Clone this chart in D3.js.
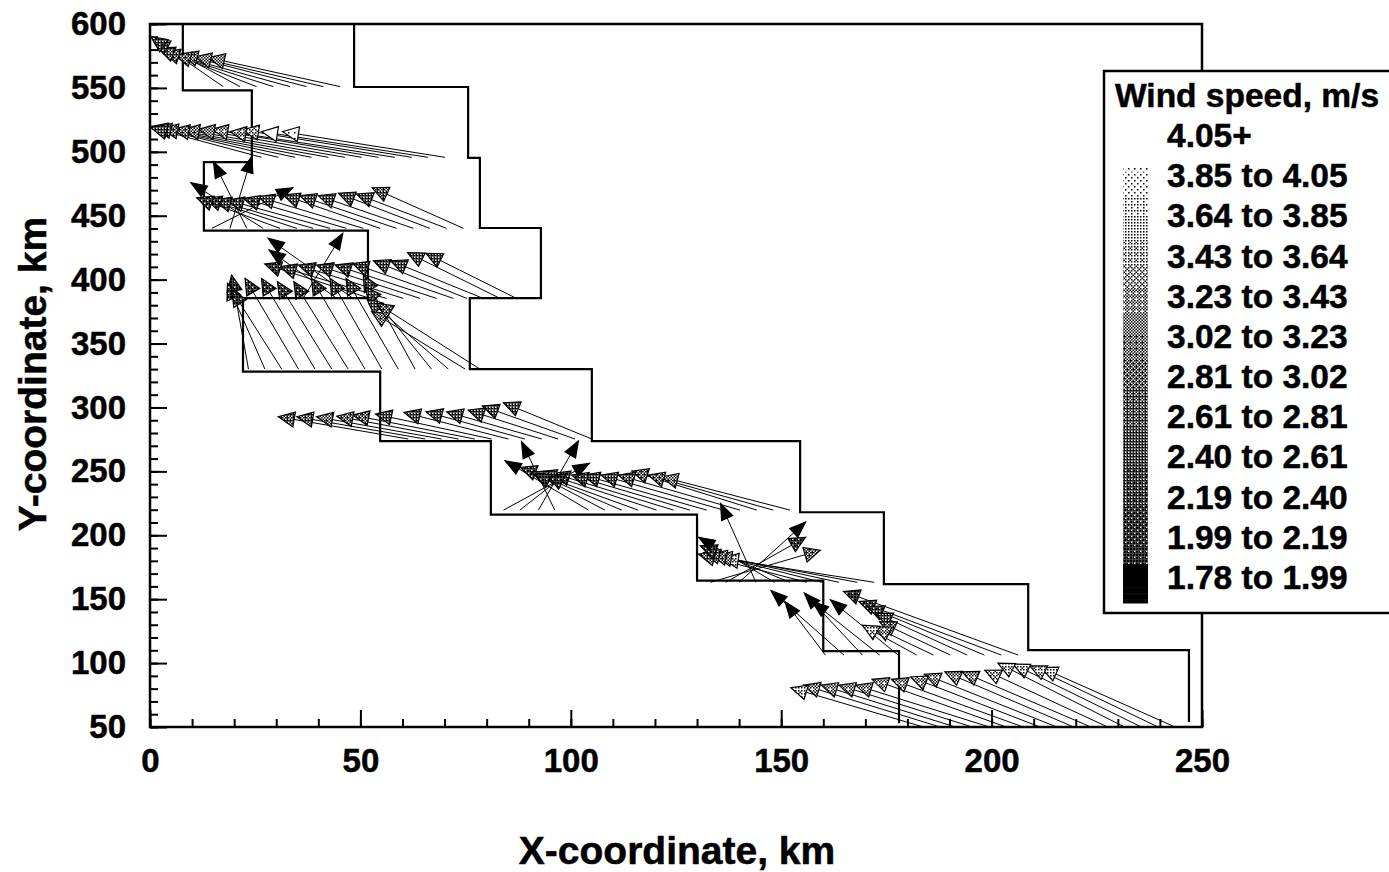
<!DOCTYPE html>
<html>
<head>
<meta charset="utf-8">
<script src="https://cdn.jsdelivr.net/npm/d3@7"></script>
<style>
  html, body { margin: 0; background: #fff; overflow: hidden; }
  text { font-family: "Liberation Sans", Arial, sans-serif; font-weight: bold; fill: #000; stroke: #000; stroke-width: 0.5px; }
</style>
</head>
<body>
<div id="chart"></div>
<script>
// Domain boundary, km
const rightEdgeX = [48.5, 48.5, 75.6, 75.6, 78.4, 78.4, 92.9, 92.9, 76, 76, 105, 105, 154.5, 154.5, 174.4, 174.4, 208.7, 208.7, 246.9, 246.9];
const rightEdgeY = [600, 550.7, 550.7, 495.2, 495.2, 440.4, 440.4, 385.6, 385.6, 330, 330, 273.7, 273.7, 218, 218, 161.8, 161.8, 110.2, 110.2, 53.9];
const leftEdgeX = [7.8, 7.8, 24.2, 24.2, 12.8, 12.8, 51.8, 51.8, 22.1, 22.1, 54.7, 54.7, 81, 81, 130, 130, 160, 160, 178, 178];
const leftEdgeY = [600, 548, 548, 492, 492, 438.4, 438.4, 385.6, 385.6, 328, 328, 273.7, 273.7, 216.2, 216.2, 164.5, 164.5, 109.4, 109.4, 53];

// Wind vectors, one set of arrays per transect: tail x, tip x, tip y, speed
const tailY = [551, 495.7, 440.1, 385.3, 330, 275.3, 219.7, 163.2, 106.3, 50];

const tailX1 = [45.2, 41.2, 37.2, 33.3, 29.3, 25.3, 21.4, 17.4];
const tipX1 = [13.9, 10.7, 7.5, 5.9, 3.2, 2.0, 0.8, 0.2];
const tipY1 = [573.7, 574.4, 576.3, 575.7, 578.4, 581, 587.5, 590.1];
const speed1 = [3.2, 3.2, 3.1, 3.0, 2.9, 2.8, 2.5, 2.3];

const tailX2 = [70.1, 66.1, 62.2, 58.2, 54.3, 50.3, 46.3, 42.4, 38.4, 34.5, 30.5, 26.5];
const tipX2 = [31.5, 26.5, 22.0, 19.0, 14.7, 11.5, 7.9, 5.5, 2.8, 1.2, 0.3, 0.2];
const tipY2 = [515.8, 515.8, 517.1, 515.8, 517.6, 517.6, 517.6, 517.6, 518.4, 519.1, 519.7, 519];
const speed2 = [4.0, 4.2, 3.5, 3.4, 3.3, 3.2, 3.1, 3.0, 2.9, 2.8, 2.7, 2.6];

const tailX3 = [74.5, 70.5, 66.5, 62.6, 58.6, 54.7, 50.7, 46.7, 42.8, 38.8, 34.9, 30.9, 26.9, 23.0, 19.0, 14.7];
const tipX3 = [52.8, 49.1, 44.8, 40, 35.6, 31.7, 25.7, 22.2, 18.4, 15.4, 13.1, 11.1, 9.7, 15.1, 24.2, 33.9];
const tipY3 = [471.9, 467, 467.5, 465.7, 465.7, 466.2, 464.9, 463.6, 462.3, 462.3, 463.6, 464.1, 475.8, 492.3, 496.2, 471.9];
const speed3 = [2.7, 2.6, 2.6, 2.6, 2.6, 2.5, 2.5, 2.4, 2.4, 2.3, 2.2, 2.1, 1.85, 1.85, 1.85, 1.85];

const tailX4 = [87.1, 83.2, 79.2, 75.3, 72.1, 68.1, 64.2, 60.2, 56.2, 52.3, 48.3, 44.4, 36.4];
const tipX4 = [65.6, 61.2, 57.2, 53.1, 48.1, 44, 39.6, 35.3, 30.9, 27.3, 28.1, 28.3, 45.8];
const tipY4 = [420.6, 421.1, 414.8, 414.8, 412.7, 411.4, 411.4, 411.4, 410.1, 412.2, 432.3, 423.2, 436.2];
const speed4 = [2.55, 2.55, 2.5, 2.5, 2.4, 2.4, 2.45, 2.45, 2.3, 2.1, 1.85, 1.85, 1.85];

const tailX5 = [23.4, 27.3, 31.3, 35.3, 39.2, 43.2, 47.1, 51.1, 55.1, 59, 63, 66.9, 70.9, 74.9, 78.4];
const tipX5 = [19.4, 18.4, 19.4, 22.6, 26.5, 30.3, 34.2, 38.4, 42.8, 46.6, 50.7, 51.1, 51.5, 52.7, 53.9];
const tipY5 = [403.6, 397.1, 391.9, 401, 401, 398.4, 398.4, 401, 401, 401, 403.6, 394.5, 385.3, 374.9, 381.4];
const speed5 = [2.0, 2.0, 2.0, 2.1, 2.2, 2.2, 2.2, 2.2, 2.3, 2.3, 2.3, 2.3, 2.5, 3.1, 2.9];

const tailX6 = [105, 101, 97, 93.1, 89.1, 85.2, 81.2, 77.2, 73.3, 69.3, 65.4, 61.4];
const tipX6 = [84, 79, 75.6, 70.5, 65.6, 60.4, 53.6, 48.2, 44.4, 39.6, 34.9, 30.5];
const tipY6 = [303.7, 301.1, 297.9, 296.6, 296.6, 296.1, 294.8, 294, 293.2, 292.7, 292.7, 292.7];
const speed6 = [2.5, 2.5, 2.6, 2.6, 2.6, 2.5, 2.5, 2.9, 3.0, 3.1, 2.8, 2.8];

const tailX7 = [152.1, 148.1, 144.2, 140.2, 136.3, 132.3, 128.3, 124.4, 120.4, 116, 112.1, 108.1, 104.2, 96.2, 92.3, 87.9, 84];
const tipX7 = [121.6, 118.4, 114.5, 111.3, 107.2, 103, 100.2, 95.9, 92.7, 88, 90.7, 91.5, 84.4, 88.3, 101.8, 99, 104.4];
const tipY7 = [245.8, 247.1, 250.2, 247.1, 247.1, 247.1, 247.1, 248.4, 249.7, 253.1, 249.7, 248.4, 258.3, 273.2, 273.7, 248.4, 256.2];
const speed7 = [3.1, 3.0, 3.0, 2.7, 2.6, 2.5, 2.3, 2.2, 2.3, 2.1, 2.0, 2.0, 1.85, 1.85, 1.85, 2.0, 1.85];

const tailX8 = [172.1, 168.1, 163.7, 159.7, 156.1, 152.1, 148.4, 144, 140, 136.8, 133.2];
const tipX8 = [136, 134.4, 133.2, 131.6, 130.4, 130.8, 130.4, 135.6, 155.8, 155.8, 159.3];
const tipY8 = [182, 183.8, 185.2, 186.5, 185.2, 191.8, 198.4, 224.9, 210.3, 198.4, 188.3];
const speed8 = [3.6, 3.2, 3, 2.8, 2.8, 2.2, 1.85, 1.85, 1.85, 2.1, 2.9];

const tailX9 = [206.3, 202.3, 198.3, 194.2, 190.2, 186.2, 182.2, 177.8, 173.4, 169.3, 164.9, 160.5];
const tipX9 = [164.8, 168.5, 170.5, 172.5, 173.4, 172.1, 169.3, 161.7, 157.4, 155.5, 147.6, 150.9];
const tipY9 = [156.1, 148.1, 144.2, 138.9, 132.3, 128.3, 129.6, 149.5, 148.1, 154.8, 156.6, 148.1];
const speed9 = [2.0, 2.2, 2.3, 2.6, 3.0, 3.4, 3.6, 1.85, 1.85, 1.85, 1.85, 1.85];

const tailX10 = [243.6, 239.6, 235.6, 231.6, 227.6, 223.6, 219.5, 215.5, 211.5, 207.5, 203.5, 199.5, 195.4, 191.4, 187.8, 183.8];
const tipX10 = [211.8, 209.1, 205.1, 201.5, 198.4, 193, 188.9, 184, 180.8, 176.2, 171.6, 167.7, 163.7, 159.5, 155.3, 152.3];
const tipY10 = [96.5, 97.9, 99.2, 100, 94.4, 93.1, 93.1, 91.3, 89.1, 87.3, 87.3, 82.8, 82.8, 82.8, 82.8, 80.7];
const speed10 = [3.7, 3.6, 3.6, 3.6, 3.5, 3.4, 3.4, 3.4, 3.3, 3.4, 3.3, 3.3, 3.3, 3.3, 3.4, 3.6];

const legendLabels = ["4.05+", "3.85 to 4.05", "3.64 to 3.85", "3.43 to 3.64", "3.23 to 3.43", "3.02 to 3.23",
  "2.81 to 3.02", "2.61 to 2.81", "2.40 to 2.61", "2.19 to 2.40", "1.99 to 2.19", "1.78 to 1.99"];
const xMajorTicks = [0, 50, 100, 150, 200, 250];
const yMajorTicks = [50, 100, 150, 200, 250, 300, 350, 400, 450, 500, 550, 600];

const width = 1389;
const height = 872;
const plot = {left: 150, right: 1202, top: 24, bottom: 727};

const svg = d3.select("#chart").append("svg")
    .attr("width", width)
    .attr("height", height)
    .style("display", "block");

const x = d3.scaleLinear().domain([0, 250]).range([plot.left, plot.right]);
const y = d3.scaleLinear().domain([50, 600]).range([plot.bottom, plot.top]);

// Halftone fills, the scan of the original is a dithered print
const bayer = [[0, 8, 2, 10], [12, 4, 14, 6], [3, 11, 1, 9], [15, 7, 13, 5]];
const cell = 1.5;
const defs = svg.append("defs");
d3.range(16).forEach(level => {
    const p = defs.append("pattern")
        .attr("id", `tone${level}`)
        .attr("patternUnits", "userSpaceOnUse")
        .attr("width", cell * 4)
        .attr("height", cell * 4);
    p.append("rect").attr("width", cell * 4).attr("height", cell * 4).attr("fill", "#fff");
    bayer.forEach((row, j) => row.forEach((v, i) => {
        if (v < level) {
            p.append("rect")
                .attr("x", i * cell).attr("y", j * cell)
                .attr("width", cell).attr("height", cell)
                .attr("fill", "#000");
        }
    }));
});

const toneScale = d3.scaleLinear().domain([1.99, 3.0, 4.05]).range([15, 10, 1]).clamp(true);
const toneOf = s => s < 1.99 ? "#000" : `url(#tone${s >= 4.05 ? 0 : Math.round(toneScale(s))})`;

// Axes: long ticks with labels, short ticks between, all pointing inwards
const axes = svg.append("g");
axes.append("g")
    .attr("transform", `translate(0,${plot.bottom})`)
    .call(d3.axisBottom(x).tickValues(d3.range(0, 251, 10)).tickSize(-8).tickFormat(""));
axes.append("g")
    .attr("transform", `translate(${plot.left},0)`)
    .call(d3.axisLeft(y).tickValues(d3.range(50, 601, 10)).tickSize(-8).tickFormat(""));

axes.append("g")
    .attr("transform", `translate(0,${plot.bottom})`)
    .call(d3.axisBottom(x).tickValues(xMajorTicks).tickSize(-17).tickPadding(22));
axes.append("g")
    .attr("transform", `translate(${plot.left},0)`)
    .call(d3.axisLeft(y).tickValues(yMajorTicks).tickSize(-17).tickPadding(24));

axes.selectAll("path.domain").remove();
axes.selectAll("line").attr("stroke", "#000").attr("stroke-width", 2);
axes.selectAll("text").style("font-size", "33px");

svg.append("rect")
    .attr("x", plot.left).attr("y", plot.top)
    .attr("width", plot.right - plot.left).attr("height", plot.bottom - plot.top)
    .attr("fill", "none").attr("stroke", "#000").attr("stroke-width", 2.5);

svg.append("text")
    .attr("x", 677).attr("y", 864)
    .attr("text-anchor", "middle")
    .style("font-size", "39px")
    .text("X-coordinate, km");
svg.append("text")
    .attr("transform", "translate(46,374) rotate(-90)")
    .attr("text-anchor", "middle")
    .style("font-size", "39px")
    .text("Y-coordinate, km");

// Boundary
const edge = d3.line().x(d => x(d[0])).y(d => y(d[1]));
[d3.zip(rightEdgeX, rightEdgeY), d3.zip(leftEdgeX, leftEdgeY)].forEach(pts => {
    svg.append("path")
        .attr("d", edge(pts))
        .attr("fill", "none")
        .attr("stroke", "#000")
        .attr("stroke-width", 2.2);
});

// Vectors
const transects = [
    [tailX1, tipX1, tipY1, speed1], [tailX2, tipX2, tipY2, speed2], [tailX3, tipX3, tipY3, speed3],
    [tailX4, tipX4, tipY4, speed4], [tailX5, tipX5, tipY5, speed5], [tailX6, tipX6, tipY6, speed6],
    [tailX7, tipX7, tipY7, speed7], [tailX8, tipX8, tipY8, speed8], [tailX9, tipX9, tipY9, speed9],
    [tailX10, tipX10, tipY10, speed10]
];
const vectors = transects.flatMap((t, r) => t[0].map((tx, i) => ({
    tx: x(tx), ty: y(tailY[r]), hx: x(t[1][i]), hy: y(t[2][i]), speed: t[3][i]
})));

svg.append("g").selectAll("line")
    .data(vectors)
    .join("line")
    .attr("x1", d => d.tx).attr("y1", d => d.ty)
    .attr("x2", d => d.hx).attr("y2", d => d.hy)
    .attr("stroke", "#000")
    .attr("stroke-width", 1);

const headLen = 16;
function headPoints(d) {
    // the solid low speed heads are narrower in the original
    const headHalf = d.speed < 1.99 ? 6 : 7.5;
    const a = Math.atan2(d.ty - d.hy, d.tx - d.hx);
    const bx = d.hx + headLen * Math.cos(a);
    const by = d.hy + headLen * Math.sin(a);
    const nx = -Math.sin(a) * headHalf;
    const ny = Math.cos(a) * headHalf;
    return [[d.hx, d.hy], [bx + nx, by + ny], [bx - nx, by - ny]].join(" ");
}
svg.append("g").selectAll("polygon")
    .data(vectors)
    .join("polygon")
    .attr("points", headPoints)
    .attr("fill", d => toneOf(d.speed))
    .attr("stroke", "#000")
    .attr("stroke-width", 1.2);

// Legend
const legend = svg.append("g");
legend.append("rect")
    .attr("x", 1104).attr("y", 71)
    .attr("width", 300).attr("height", 542)
    .attr("fill", "#fff").attr("stroke", "#000").attr("stroke-width", 2.5);
legend.append("text")
    .attr("x", 1115).attr("y", 107)
    .style("font-size", "33.5px")
    .text("Wind speed, m/s");

const legendY = d3.scalePoint().domain(legendLabels).range([136, 578]);
legend.selectAll("text.band")
    .data(legendLabels)
    .join("text")
    .attr("class", "band")
    .attr("x", 1167)
    .attr("y", d => legendY(d) + 11)
    .style("font-size", "33.5px")
    .text(d => d);

const barY = d3.scaleLinear().domain([4.05, 1.78]).range([160, 603]);
const barSpeeds = d3.range(4.05, 1.78, -0.03);
legend.selectAll("rect.tone")
    .data(barSpeeds)
    .join("rect")
    .attr("class", "tone")
    .attr("x", 1123)
    .attr("width", 25)
    .attr("y", d => barY(d))
    .attr("height", d => barY(Math.max(d - 0.03, 1.78)) - barY(d) + 0.5)
    .attr("fill", d => toneOf(d));
</script>
</body>
</html>
